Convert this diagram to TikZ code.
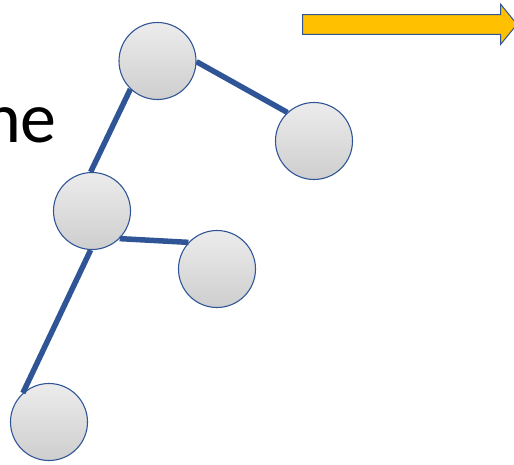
\documentclass[tikz,border=0pt]{standalone}
\usepackage{fontspec}
\setmainfont{Carlito}
\definecolor{edgeblue}{RGB}{47,85,151}
\definecolor{circtop}{RGB}{236,236,236}
\definecolor{circbot}{RGB}{206,206,206}
\definecolor{arrowgold}{RGB}{255,192,0}
\begin{document}
\begin{tikzpicture}[x=1pt,y=-1pt,
  treenode/.style={circle,draw=edgeblue,line width=1.1pt,minimum size=77pt,inner sep=0pt,
    top color=circtop,bottom color=circbot},
  treeedge/.style={draw=edgeblue,line width=5.5pt}]
\useasboundingbox (0,0) rectangle (514,464);
\begin{scope}
\clip (0,0) rectangle (514,464);
% text
\node[anchor=base east,inner sep=0pt,font=\fontsize{72}{80}\selectfont] (txt) at (57,142) {ne};
% arrow
\filldraw[fill=arrowgold,draw=edgeblue,line width=1pt]
  (302.5,14.5) -- (500.7,14.5) -- (500.7,4.3) -- (517,24.3) -- (500.7,44.3) -- (500.7,34.3) -- (302.5,34.3) -- cycle;
% nodes
\node[treenode] (A) at (157.5,61) {};
\node[treenode] (B) at (314,141) {};
\node[treenode] (C) at (92,211) {};
\node[treenode] (D) at (217,269) {};
\node[treenode] (E) at (49,422) {};
% edges
\draw[treeedge] (A.-1) -- (B.133);
\draw[treeedge] (A.226) -- (C.92);
\draw[treeedge] (C.-45) -- (D.137);
\draw[treeedge] (C.268) -- (E.132);
\end{scope}
\end{tikzpicture}
\end{document}
